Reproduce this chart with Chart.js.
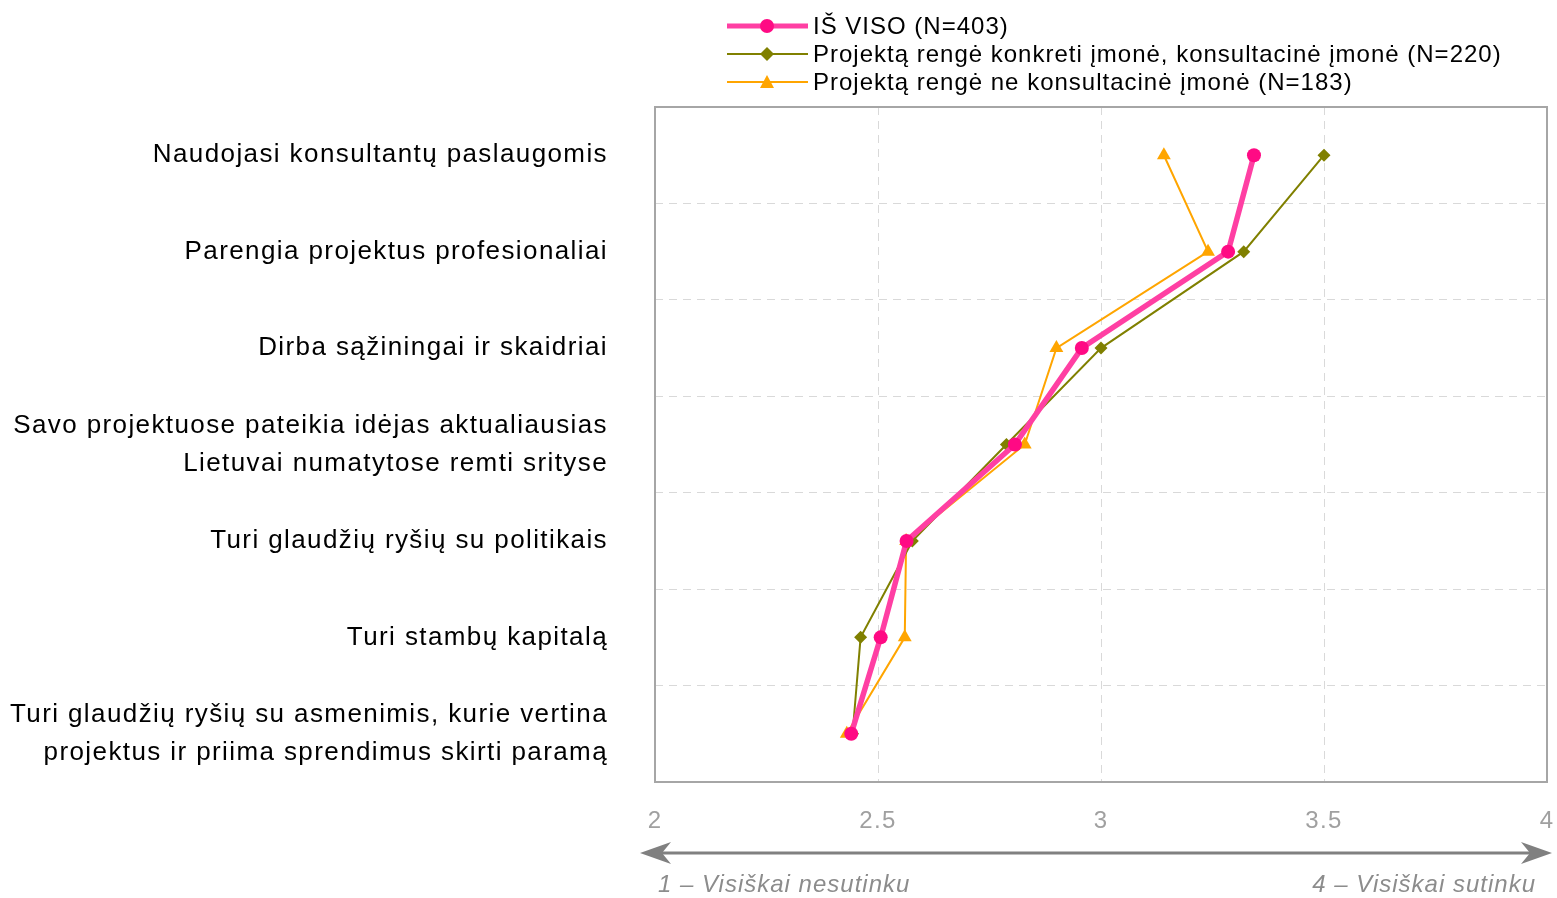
<!DOCTYPE html>
<html>
<head>
<meta charset="utf-8">
<script src="https://cdn.jsdelivr.net/npm/chart.js@4/dist/chart.umd.min.js"></script>
<style>
html,body{margin:0;padding:0;background:#fff;}
#wrap{position:relative;width:1557px;height:898px;font-family:"Liberation Sans",Arial,sans-serif;}
#legend{position:absolute;left:727px;top:12px;font-size:24px;letter-spacing:1px;color:#000;line-height:28px;z-index:2;}
.row{display:flex;align-items:center;height:28px;white-space:nowrap;}
.row svg{margin-right:5px;}
#axisL,#axisR{position:absolute;top:870px;font-size:24px;letter-spacing:1px;font-style:italic;color:#8c8c8c;white-space:nowrap;z-index:2;}
#axisL{left:658px;}
#axisR{right:21px;}
canvas{position:absolute;left:0;top:0;}
</style>
</head>
<body>
<div id="wrap">
<canvas id="c" width="1557" height="898"></canvas>
<div id="legend"></div>
<div id="axisL">1 – Visiškai nesutinku</div>
<div id="axisR">4 – Visiškai sutinku</div>
</div>
<script>
const categories = [
  "Naudojasi konsultantų paslaugomis",
  "Parengia projektus profesionaliai",
  "Dirba sąžiningai ir skaidriai",
  ["Savo projektuose pateikia idėjas aktualiausias", "Lietuvai numatytose remti srityse"],
  "Turi glaudžių ryšių su politikais",
  "Turi stambų kapitalą",
  ["Turi glaudžių ryšių su asmenimis, kurie vertina", "projektus ir priima sprendimus skirti paramą"]
];
const seriesNames = [
  "IŠ VISO (N=403)",
  "Projektą rengė konkreti įmonė, konsultacinė įmonė (N=220)",
  "Projektą rengė ne konsultacinė įmonė (N=183)"
];
const totalValues = [3.343, 3.285, 2.957, 2.807, 2.564, 2.506, 2.44];
const consultValues = [3.50, 3.32, 3.00, 2.788, 2.577, 2.461, 2.443];
const nonConsultValues = [3.141, 3.24, 2.90, 2.829, 2.563, 2.56, 2.43];
const xTicks = [2, 2.5, 3, 3.5, 4];

const colors = {
  totalLine: "#ff3fa3", totalPoint: "#ff0a84",
  consult: "#808000", non: "#ffa500"
};

// HTML legend
const legendDefs = [
  {name: seriesNames[0], line: colors.totalLine, lw: 5, marker: `<circle cx="40" cy="10" r="7" fill="${colors.totalPoint}"/>`},
  {name: seriesNames[1], line: colors.consult, lw: 2, marker: `<polygon points="40,3 47,10 40,17 33,10" fill="${colors.consult}"/>`},
  {name: seriesNames[2], line: colors.non, lw: 2, marker: `<polygon points="40,3 47,16 33,16" fill="${colors.non}"/>`}
];
const lg = document.getElementById('legend');
legendDefs.forEach(d => {
  const r = document.createElement('div'); r.className = 'row';
  r.innerHTML = `<svg width="81" height="20"><line x1="0" y1="10" x2="81" y2="10" stroke="${d.line}" stroke-width="${d.lw}"/>${d.marker}</svg><span>${d.name}</span>`;
  lg.appendChild(r);
});

const spacingPlugin = {
  id: 'spacing',
  beforeLayout(chart) { chart.ctx.letterSpacing = '1.4px'; },
  beforeDraw(chart) { chart.ctx.letterSpacing = '1.4px'; }
};

const framePlugin = {
  id: 'frame',
  afterDraw(chart) {
    const {ctx, chartArea: a} = chart;
    ctx.save();
    ctx.strokeStyle = '#a6a6a6';
    ctx.lineWidth = 2;
    ctx.strokeRect(a.left, a.top, a.right - a.left, a.bottom - a.top);
    // arrow
    const y = 853, x1 = a.left - 15, x2 = a.right + 5;
    ctx.strokeStyle = '#808080';
    ctx.fillStyle = '#808080';
    ctx.lineWidth = 3;
    ctx.beginPath(); ctx.moveTo(x1 + 10, y); ctx.lineTo(x2 - 10, y); ctx.stroke();
    ctx.beginPath(); ctx.moveTo(x1, y); ctx.lineTo(x1 + 31, y - 11); ctx.lineTo(x1 + 22, y); ctx.lineTo(x1 + 31, y + 11); ctx.closePath(); ctx.fill();
    ctx.beginPath(); ctx.moveTo(x2, y); ctx.lineTo(x2 - 31, y - 11); ctx.lineTo(x2 - 22, y); ctx.lineTo(x2 - 31, y + 11); ctx.closePath(); ctx.fill();
    ctx.restore();
  }
};

new Chart(document.getElementById('c'), {
  type: 'line',
  data: {
    labels: categories,
    datasets: [
      {label: seriesNames[2], data: nonConsultValues, borderColor: colors.non, backgroundColor: colors.non,
       borderWidth: 2, pointStyle: 'triangle', pointRadius: 8, pointBorderWidth: 0, order: 3},
      {label: seriesNames[1], data: consultValues, borderColor: colors.consult, backgroundColor: colors.consult,
       borderWidth: 2, pointStyle: 'rectRot', pointRadius: 6.5, pointBorderWidth: 0, order: 2},
      {label: seriesNames[0], data: totalValues, borderColor: colors.totalLine, backgroundColor: colors.totalPoint,
       pointBackgroundColor: colors.totalPoint, borderWidth: 5.5, pointStyle: 'circle', pointRadius: 7, pointBorderWidth: 0, order: 1}
    ]
  },
  options: {
    indexAxis: 'y',
    responsive: false,
    animation: false,
    layout: {padding: {top: 107, right: 10, bottom: 0, left: 0}},
    plugins: {legend: {display: false}, tooltip: {enabled: false}},
    elements: {line: {tension: 0}},
    scales: {
      x: {
        type: 'linear', min: 2, max: 4,
        afterBuildTicks: (s) => { s.ticks = xTicks.map(v => ({value: v})); },
        afterFit: (s) => { s.height = 116; s.paddingLeft = 0; s.paddingRight = 0; },
        grid: {color: '#d9d9d9', lineWidth: 1, drawTicks: false},
        border: {display: false, dash: [8, 6]},
        ticks: {color: '#a0a0a0', font: {family: 'Liberation Sans', size: 24}, padding: 25, maxRotation: 0,
                callback: (v) => String(v)}
      },
      y: {
        type: 'category',
        offset: true,
        afterFit: (s) => { s.width = 655; s.paddingTop = 0; s.paddingBottom = 0; },
        grid: {color: '#d9d9d9', lineWidth: 1, offset: true, drawTicks: false},
        border: {display: false, dash: [8, 6]},
        ticks: {color: '#000', font: {family: 'Liberation Sans', size: 26, lineHeight: 1.45}, padding: 47}
      }
    }
  },
  plugins: [spacingPlugin, framePlugin]
});
</script>
</body>
</html>
